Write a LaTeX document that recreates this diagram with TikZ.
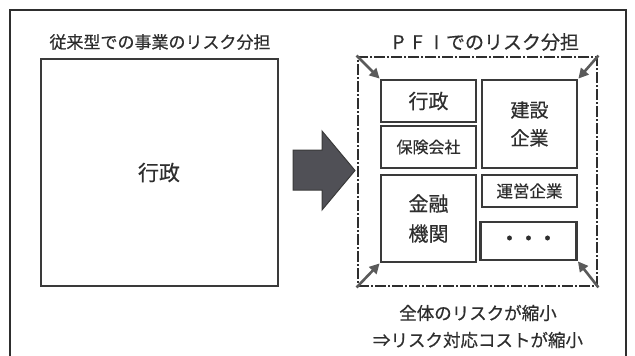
\documentclass[tikz,border=0pt]{standalone}
\usepackage{fontspec}
\setmainfont{Noto Sans CJK JP}[BoldFont={Noto Sans CJK JP}, BoldFeatures={FakeBold=0.6}]
\usetikzlibrary{arrows.meta}
\definecolor{ink}{HTML}{2E2E2E}
\definecolor{boxline}{HTML}{3A3A3A}
\definecolor{arrfill}{HTML}{505056}
\definecolor{arrline}{HTML}{5A5A5A}
\tikzset{
  txt/.style={inner sep=0pt, text=ink},
  fs/.style={font={\bfseries\fontsize{#1}{#1}\selectfont}},
  innerbox/.style={draw=boxline, line width=2.8pt, fill=white, inner sep=0pt},
  cornerarrow/.style={draw=arrline, line width=2.6pt, -{Triangle[length=10pt,width=10pt]}, shorten >=0pt},
}
\newcommand{\fw}[1]{\makebox[19pt]{#1}}
\begin{document}
\begin{tikzpicture}[x=1pt,y=-1pt]
\useasboundingbox (0,0) rectangle (635,356);
% outer frame (open at bottom)
\draw[ink, line width=1.5pt] (10,360) -- (10,10) -- (626,10) -- (626,360);

% left side
\node[txt, fs=17] (lt) at (160,42) {従来型での事業のリスク分担};
\node[draw=boxline, line width=2pt, minimum width=237pt, minimum height=227pt, inner sep=0pt] (lb) at (159,172.5) {};
\node[txt, fs=21] (lg) at (lb.center) {行政};

% big arrow
\draw[boxline, fill=arrfill, line width=1pt, line join=miter]
  (293,150) -- (322,150) -- (322,131) -- (355,170.5) -- (322,210) -- (322,190) -- (293,190) -- cycle;

% right side
\node[txt, fs=19] (rt) at (484,42) {\fw{P}\fw{F}\fw{I}でのリスク分担};
\node[draw=ink, line width=2.8pt, dash pattern=on 11pt off 2pt on 2pt off 2pt, minimum width=239pt, minimum height=229pt, inner sep=0pt] (db) at (477.5,171.5) {};

\node[innerbox, minimum width=95pt, minimum height=42pt] (g1) at (428.5,101) {};
\node[txt, fs=20] at (g1.center) {行政};
\node[innerbox, minimum width=95pt, minimum height=42pt] (g2) at (428.5,147) {};
\node[txt, fs=16] at (g2.center) {保険会社};
\node[innerbox, minimum width=95pt, minimum height=88pt] (g3) at (529.5,124) {};
\node[txt, align=center, font={\bfseries\fontsize{19}{28}\selectfont}] at (g3.center) {建設\\企業};
\node[innerbox, minimum width=95pt, minimum height=87pt] (g4) at (428.5,218.5) {};
\node[txt, align=center, font={\bfseries\fontsize{20}{30}\selectfont}] at (g4.center) {金融\\機関};
\node[innerbox, minimum width=95pt, minimum height=32pt] (g5) at (529.5,191) {};
\node[txt, fs=16.5] at (g5.center) {運営企業};
\node[innerbox, minimum width=96pt, minimum height=38pt] (g6) at (528.5,241) {};
\node[txt, fs=22] at (g6.center) {・\hspace{-3pt}・\hspace{-3pt}・};

% corner arrows
\draw[cornerarrow] (db.north west) -- (g1.north west);
\draw[cornerarrow] (db.north east) -- (g3.north east);
\draw[cornerarrow] (db.south west) -- (g4.south west);
\draw[cornerarrow] (db.south east) -- (g6.south east);

% bottom text
\node[txt, fs=17.5] (b1) at (478,313) {全体のリスクが縮小};
\node[txt, fs=17.5] (b2) at (478,340) {⇒リスク対応コストが縮小};
\end{tikzpicture}
\end{document}
